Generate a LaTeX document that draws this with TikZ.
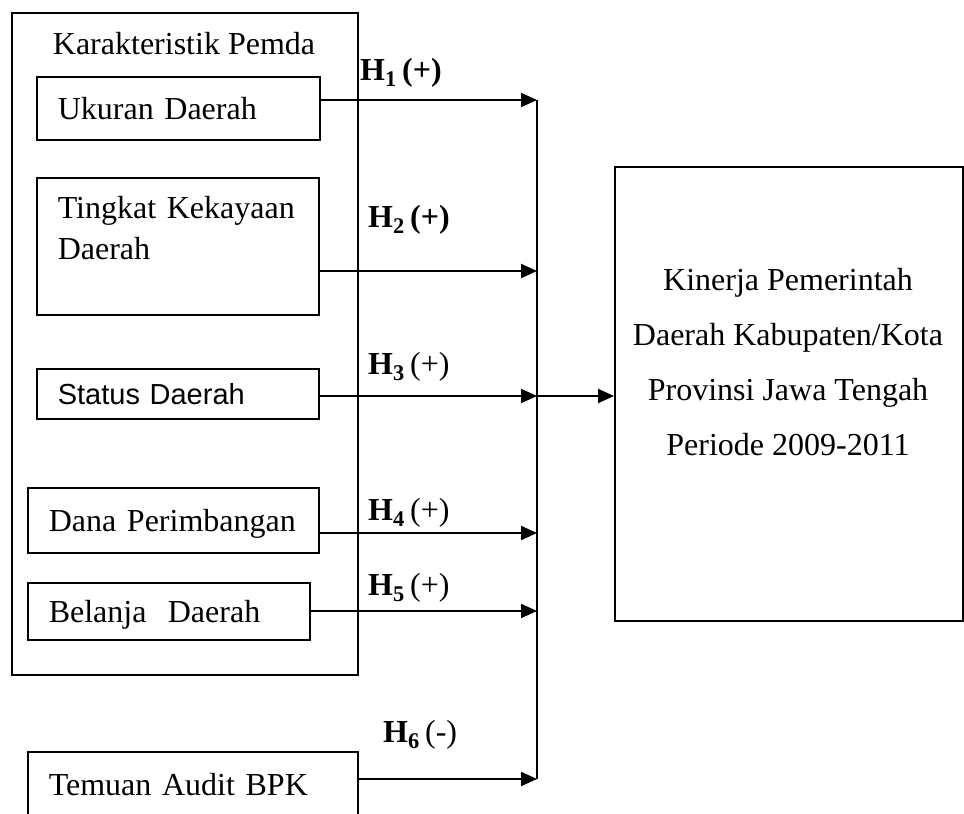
\documentclass[tikz,border=0pt]{standalone}
\usepackage{fontspec}
\setmainfont{Liberation Serif}
\newfontfamily\arialfont{Liberation Sans}
\usetikzlibrary{arrows.meta}
\tikzset{
  kasten/.style={draw, line width=1.6pt, anchor=north west, align=left, inner xsep=21pt, inner ysep=0pt, text height=26pt, text depth=4pt},
  hyp/.style={anchor=west, inner sep=0pt},
  pfeil/.style={->, line width=2.2pt},
}
\newcommand{\hypo}[2]{\textbf{H\textsubscript{#1}}\,#2}

\begin{document}
\begin{tikzpicture}[x=1pt, y=-1pt, >={Triangle[length=16pt,width=14pt]}, font=\fontsize{32}{41}\selectfont]
				\useasboundingbox (0,0) rectangle (964,814);
				% Rahmen Karakteristik
				\node[kasten, minimum width=346pt, minimum height=662pt, text height=0pt, text depth=0pt] (pemda) at (11,12) {};
				\node[anchor=base, inner sep=0pt] (titel) at (184,54) {Karakteristik Pemda};
				% Kaesten links
				\node[kasten, text width=241pt, minimum height=63pt] (ukuran) at (36,76) {Ukuran Daerah};
				\node[kasten, text width=240pt, minimum height=137pt, text height=22pt, text depth=77pt] (kekayaan) at (36,177) {Tingkat Kekayaan\\Daerah};
				\node[kasten, text width=240pt, minimum height=50pt, font=\arialfont\fontsize{29}{35}\selectfont] (status) at (36,368) {Status Daerah};
				\node[kasten, text width=249pt, minimum height=65pt] (dana) at (27,487) {Dana Perimbangan};
				\node[kasten, text width=240pt, minimum height=57pt] (belanja) at (27,582) {Belanja\ \ Daerah};
				\node[kasten, text width=288pt, minimum height=66pt] (temuan) at (27,751) {Temuan Audit BPK};
				% Kasten rechts
				\node[kasten, minimum width=348pt, minimum height=454pt, text height=0pt, text depth=0pt] (kinerja) at (614,166) {};
				\node[align=center, inner sep=0pt, font=\fontsize{32}{55}\selectfont] (kinerjatext) at (788,362.5) {Kinerja Pemerintah\\Daerah Kabupaten/Kota\\Provinsi Jawa Tengah\\Periode 2009-2011};
				% Sammelleitung
				\coordinate (b1) at (537,100);
				\coordinate (b2) at (537,271);
				\coordinate (b3) at (537,396);
				\coordinate (b4) at (537,533);
				\coordinate (b5) at (537,611);
				\coordinate (b6) at (537,779);
				\draw[line width=2.2pt] (b1) -- (b6);
				% Pfeile
				\draw[pfeil] (ukuran.east |- b1) -- (b1);
				\draw[pfeil] (kekayaan.east |- b2) -- (b2);
				\draw[pfeil] (status.east |- b3) -- (b3);
				\draw[pfeil] (dana.east |- b4) -- (b4);
				\draw[pfeil] (belanja.east |- b5) -- (b5);
				\draw[pfeil] (temuan.east |- b6) -- (b6);
				\draw[pfeil] (b3) -- (kinerja.west |- b3);
				% Hypothesen
				\node[hyp] (h1) at (360,73) {\hypo{1}{\textbf{(+)}}};
				\node[hyp] (h2) at (368,220) {\hypo{2}{\textbf{(+)}}};
				\node[hyp] (h3) at (368,367) {\hypo{3}{(+)}};
				\node[hyp] (h4) at (368,513) {\hypo{4}{(+)}};
				\node[hyp] (h5) at (368,588) {\hypo{5}{(+)}};
				\node[hyp] (h6) at (383,735) {\hypo{6}{(-)}};
			\end{tikzpicture}
\end{document}
